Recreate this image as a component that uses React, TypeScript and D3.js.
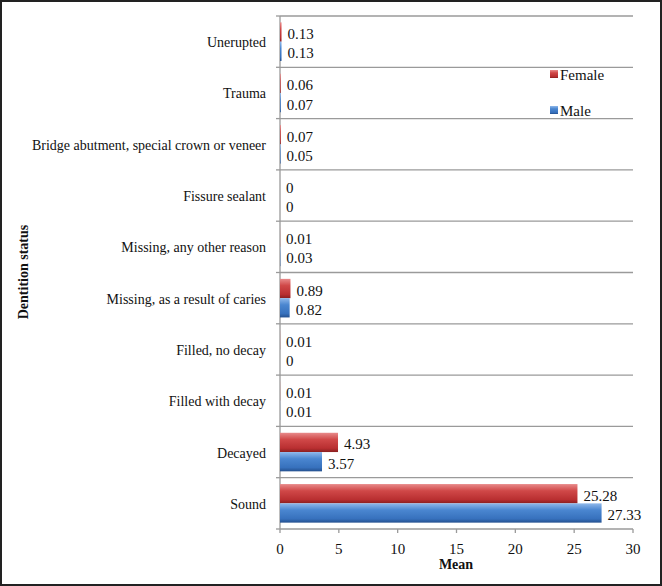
import React from "react";
import * as d3 from "d3";

const categories = [
  "Unerupted",
  "Trauma",
  "Bridge abutment, special crown or veneer",
  "Fissure sealant",
  "Missing, any other reason",
  "Missing, as a result of caries",
  "Filled, no decay",
  "Filled with decay",
  "Decayed",
  "Sound",
];
const femaleValues = [0.13, 0.06, 0.07, 0, 0.01, 0.89, 0.01, 0.01, 4.93, 25.28];
const maleValues = [0.13, 0.07, 0.05, 0, 0.03, 0.82, 0, 0.01, 3.57, 27.33];
const xTicks = [0, 5, 10, 15, 20, 25, 30];
const seriesNames = ["Female", "Male"];

const W = 662;
const H = 586;
const left = 280;
const right = 633;
const top = 16;
const bottom = 529;
const FONT = "Liberation Serif, Times New Roman, DejaVu Serif, serif";

export default function App() {
  const x = d3.scaleLinear().domain([0, 30]).range([left, right]);
  const y = d3.scaleBand<string>().domain(categories).range([top, bottom]).paddingInner(0).paddingOuter(0);
  const sub = d3.scaleBand<string>().domain(seriesNames).range([0, y.bandwidth()]).paddingInner(0).paddingOuter(0.33);
  const bh = sub.bandwidth();
  const boundaries = categories.map((c) => y(c)!).concat([bottom]);
  const series = [
    { name: "Female", values: femaleValues, grad: "gF" },
    { name: "Male", values: maleValues, grad: "gM" },
  ];
  const ts = { fontFamily: FONT } as React.CSSProperties;

  return (
    <svg width={W} height={H} style={{ position: "absolute", left: 0, top: 0, background: "#fff" }}>
      <defs>
        <linearGradient id="gF" x1="0" y1="0" x2="0" y2="1">
          <stop offset="0" stopColor="#e88a8a" />
          <stop offset="0.35" stopColor="#d04848" />
          <stop offset="0.8" stopColor="#b92f31" />
          <stop offset="1" stopColor="#8a1f20" />
        </linearGradient>
        <linearGradient id="gM" x1="0" y1="0" x2="0" y2="1">
          <stop offset="0" stopColor="#8fb8ea" />
          <stop offset="0.35" stopColor="#4a86d0" />
          <stop offset="0.8" stopColor="#3771bd" />
          <stop offset="1" stopColor="#24508f" />
        </linearGradient>
      </defs>
      <rect x={1} y={1} width={W - 2} height={H - 2} fill="#fff" stroke="#222" strokeWidth={2} />

      {boundaries.map((b, i) => (
        <line key={"g" + i} x1={left} x2={right} y1={b} y2={b} stroke="#9a9a9a" strokeWidth={1.3} />
      ))}
      <line x1={left} x2={left} y1={top} y2={bottom} stroke="#9a9a9a" strokeWidth={1.3} />
      {boundaries.map((b, i) => (
        <line key={"lt" + i} x1={left - 4} x2={left} y1={b} y2={b} stroke="#9a9a9a" strokeWidth={1.3} />
      ))}
      {xTicks.map((t) => (
        <line key={"bt" + t} x1={x(t)} x2={x(t)} y1={bottom} y2={bottom + 4} stroke="#9a9a9a" strokeWidth={1.3} />
      ))}
      {xTicks.map((t) => (
        <text key={"tl" + t} x={x(t)} y={549} textAnchor="middle" dominantBaseline="central" style={ts} fontSize={15} fill="#111">
          {t}
        </text>
      ))}

      {categories.map((c) => (
        <text key={c} x={266} y={y(c)! + y.bandwidth() / 2 + 1} textAnchor="end" dominantBaseline="central" style={ts} fontSize={14} fill="#111">
          {c}
        </text>
      ))}

      {series.map((s) =>
        categories.map((c, i) => {
          const by = y(c)! + sub(s.name)!;
          const w = x(s.values[i]) - x(0);
          return (
            <g key={s.name + c}>
              {w > 0 && <rect x={x(0)} y={by} width={w} height={bh} fill={`url(#${s.grad})`} />}
              <text x={x(s.values[i]) + 6} y={by + bh / 2 + 2} dominantBaseline="central" style={ts} fontSize={15} fill="#111">
                {s.values[i]}
              </text>
            </g>
          );
        })
      )}

      {series.map((s, i) => (
        <g key={"lg" + s.name} transform={`translate(550, ${70 + i * 36})`}>
          <rect x={0} y={0} width={8} height={8} fill={`url(#${s.grad})`} />
          <text x={10} y={5} dominantBaseline="central" style={ts} fontSize={15} fill="#111">
            {s.name}
          </text>
        </g>
      ))}

      <text x={456} y={564} textAnchor="middle" dominantBaseline="central" style={ts} fontSize={14} fontWeight="bold" fill="#111">
        Mean
      </text>
      <text transform="translate(23, 272) rotate(-90)" textAnchor="middle" dominantBaseline="central" style={ts} fontSize={14} fontWeight="bold" fill="#111">
        Dentition status
      </text>
    </svg>
  );
}
